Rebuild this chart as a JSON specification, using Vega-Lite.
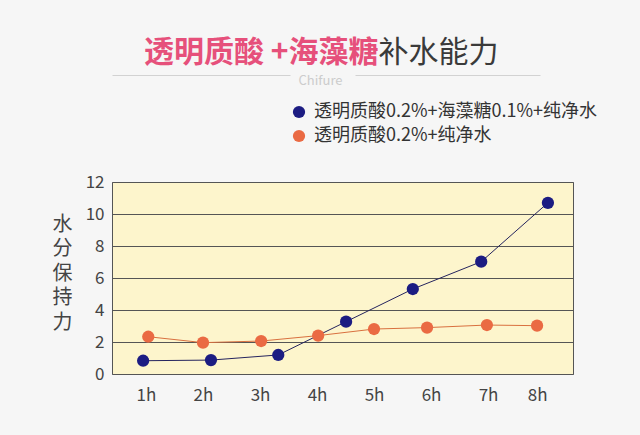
{
  "$schema": "https://vega.github.io/schema/vega-lite/v6.json",
  "autosize": "none",
  "width": 461,
  "height": 192,
  "padding": {"left": 112, "top": 182, "right": 67, "bottom": 61},
  "background": "#f6f6f6",
  "config": {
    "font": "Noto Sans CJK SC",
    "view": {"fill": "#fdf5cc", "stroke": "#555555", "strokeWidth": 1},
    "axis": {"domain": false, "ticks": false, "labelFont": "Noto Sans CJK SC", "titleFont": "Noto Sans CJK SC"}
  },
  "data": {
    "values": [
      {"series": "透明质酸0.2%+海藻糖0.1%+纯净水", "x": 0.95, "y": 0.83},
      {"series": "透明质酸0.2%+海藻糖0.1%+纯净水", "x": 2.14, "y": 0.87},
      {"series": "透明质酸0.2%+海藻糖0.1%+纯净水", "x": 3.32, "y": 1.19},
      {"series": "透明质酸0.2%+海藻糖0.1%+纯净水", "x": 4.51, "y": 3.27},
      {"series": "透明质酸0.2%+海藻糖0.1%+纯净水", "x": 5.68, "y": 5.31},
      {"series": "透明质酸0.2%+海藻糖0.1%+纯净水", "x": 6.88, "y": 7.02},
      {"series": "透明质酸0.2%+海藻糖0.1%+纯净水", "x": 8.05, "y": 10.7},
      {"series": "透明质酸0.2%+纯净水", "x": 1.04, "y": 2.33},
      {"series": "透明质酸0.2%+纯净水", "x": 2.0, "y": 1.96},
      {"series": "透明质酸0.2%+纯净水", "x": 3.02, "y": 2.06},
      {"series": "透明质酸0.2%+纯净水", "x": 4.02, "y": 2.4},
      {"series": "透明质酸0.2%+纯净水", "x": 5.0, "y": 2.81},
      {"series": "透明质酸0.2%+纯净水", "x": 5.93, "y": 2.9},
      {"series": "透明质酸0.2%+纯净水", "x": 6.98, "y": 3.06},
      {"series": "透明质酸0.2%+纯净水", "x": 7.86, "y": 3.02}
    ]
  },
  "layer": [
    {
      "mark": {"type": "line", "strokeWidth": 1},
      "encoding": {
        "x": {
          "field": "x", "type": "quantitative",
          "scale": {"domain": [0.404, 8.49], "nice": false, "zero": false},
          "axis": {
            "orient": "bottom", "values": [1, 2, 3, 4, 5, 6, 7, 7.86], "grid": false,
            "labelExpr": "datum.value > 7.5 ? '8h' : datum.value + 'h'",
            "labelFontSize": 17, "labelColor": "#444444", "labelPadding": 13,
            "title": "Chifure", "titleFontSize": 13, "titleFontWeight": "normal", "titleColor": "#cccccc",
            "titleX": 208, "titleY": -294, "titleAlign": "center", "titleBaseline": "middle"
          }
        },
        "y": {
          "field": "y", "type": "quantitative",
          "scale": {"domain": [0, 12], "nice": false},
          "axis": {
            "orient": "left", "values": [0, 2, 4, 6, 8, 10, 12], "grid": true, "gridColor": "#555555", "gridWidth": 1, "gridOpacity": 1,
            "labelFontSize": 17, "labelColor": "#444444", "labelPadding": 8,
            "title": ["水", "分", "保", "持", "力"], "titleAngle": 0, "titleFontSize": 20, "titleFontWeight": "normal",
            "titleColor": "#444444", "titleLineHeight": 24.5, "titleX": -50, "titleY": 32, "titleAlign": "center", "titleBaseline": "top"
          }
        },
        "color": {
          "field": "series", "type": "nominal",
          "scale": {"domain": ["透明质酸0.2%+海藻糖0.1%+纯净水", "透明质酸0.2%+纯净水"], "range": ["#25245e", "#d9703f"]},
          "legend": null
        }
      }
    },
    {
      "mark": {"type": "point", "filled": true, "opacity": 1, "size": 150},
      "encoding": {
        "x": {
          "field": "x", "type": "quantitative",
          "axis": {
            "orient": "top", "labels": false, "grid": false, "offset": 107,
            "domain": true, "domainColor": "#d2d2d2", "domainWidth": 1, "domainDash": [178, 65, 185, 300],
            "title": "透明质酸 +海藻糖", "titleFontSize": 30, "titleFontWeight": "bold", "titleColor": "#e6507b",
            "titleX": 266, "titleY": -23, "titleAlign": "right", "titleBaseline": "middle"
          }
        },
        "y": {
          "field": "y", "type": "quantitative",
          "axis": {
            "orient": "right", "labels": false, "grid": false,
            "title": "补水能力", "titleAngle": 0, "titleFontSize": 30, "titleFontWeight": "normal", "titleColor": "#3a3a3a",
            "titleX": -195, "titleY": -130, "titleAlign": "left", "titleBaseline": "middle"
          }
        },
        "color": {
          "field": "series", "type": "nominal",
          "scale": {"domain": ["透明质酸0.2%+海藻糖0.1%+纯净水", "透明质酸0.2%+纯净水"], "range": ["#1c1c82", "#ea6a43"]},
          "legend": {
            "orient": "none", "legendX": 178, "legendY": -79, "title": null,
            "symbolType": "circle", "symbolSize": 150, "symbolStrokeWidth": 0,
            "labelFontSize": 18, "labelColor": "#333333", "labelOffset": 6, "rowPadding": 6, "labelLimit": 400
          }
        }
      }
    }
  ],
  "resolve": {"scale": {"color": "independent"}, "axis": {"x": "independent", "y": "independent"}}
}
